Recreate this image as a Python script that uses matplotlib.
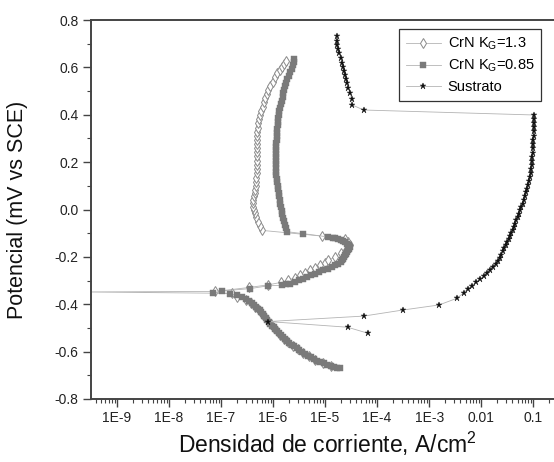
import matplotlib
matplotlib.use("Agg")
import matplotlib.pyplot as plt
from matplotlib.ticker import FixedLocator, FixedFormatter, LogLocator, MultipleLocator, NullFormatter, FormatStrFormatter

# ---------------- data ----------------
# CrN KG=1.3 (open diamonds): current density (A/cm2), potential (V)
crn13_i = [1.3e-5, 9.0e-6, 6.3e-6, 4.8e-6, 3.7e-6, 2.95e-6, 2.4e-6, 1.95e-6, 1.6e-6, 1.37e-6,
           1.2e-6, 1.05e-6, 9.0e-7, 7.9e-7, 7.0e-7, 6.1e-7, 5.3e-7, 4.5e-7, 3.7e-7, 3.0e-7,
           2.0e-7, 1.6e-7, 2e-10, 7.7e-8, 3.5e-7, 8.1e-7, 1.4e-6, 1.95e-6, 2.6e-6, 3.3e-6,
           4.1e-6, 5.2e-6, 6.5e-6, 8.0e-6, 9.8e-6, 1.16e-5, 1.55e-5, 2.0e-5, 2.5e-5, 2.9e-5,
           3.0e-5, 2.7e-5, 2.4e-5, 8.6e-6,
           6.0e-7, 5.6e-7, 5.2e-7, 4.8e-7, 4.5e-7, 4.3e-7, 4.2e-7, 4.2e-7, 4.2e-7, 4.3e-7,
           4.4e-7, 4.5e-7, 4.6e-7, 4.7e-7, 4.8e-7, 4.9e-7, 5.0e-7, 5.0e-7, 5.0e-7, 5.0e-7,
           5.0e-7, 5.0e-7, 5.0e-7, 5.0e-7, 5.0e-7, 5.0e-7, 5.1e-7, 5.2e-7, 5.4e-7, 5.6e-7,
           5.9e-7, 6.3e-7, 6.6e-7, 7.0e-7, 7.5e-7, 8.1e-7, 8.9e-7, 9.9e-7, 1.1e-6, 1.21e-6,
           1.33e-6, 1.47e-6, 1.62e-6, 1.78e-6]
crn13_E = [-0.660, -0.648, -0.635, -0.620, -0.605, -0.590, -0.575, -0.560, -0.545, -0.530,
           -0.515, -0.500, -0.485, -0.470, -0.455, -0.440, -0.425, -0.410, -0.396, -0.382,
           -0.368, -0.354, -0.348, -0.346, -0.329, -0.318, -0.308, -0.299, -0.288, -0.278,
           -0.267, -0.257, -0.246, -0.236, -0.225, -0.215, -0.200, -0.185, -0.170, -0.158,
           -0.148, -0.136, -0.123, -0.112,
           -0.088, -0.070, -0.051, -0.033, -0.016, 0.000, 0.012, 0.026, 0.040, 0.055,
           0.069, 0.083, 0.100, 0.118, 0.135, 0.153, 0.170, 0.188, 0.206, 0.224,
           0.242, 0.259, 0.276, 0.294, 0.311, 0.329, 0.346, 0.364, 0.381, 0.399,
           0.416, 0.434, 0.452, 0.470, 0.488, 0.505, 0.522, 0.540, 0.558, 0.575,
           0.590, 0.603, 0.616, 0.628]

# CrN KG=0.85 (filled squares)
crn085_i = [1.9e-5, 1.7e-5, 1.5e-5, 1.3e-5, 1.1e-5, 9.4e-6, 8.0e-6, 7.0e-6, 6.1e-6, 5.4e-6,
            4.7e-6, 4.1e-6, 3.6e-6, 3.2e-6, 2.85e-6, 2.55e-6, 2.3e-6, 2.05e-6, 1.85e-6, 1.68e-6,
            1.53e-6, 1.40e-6, 1.29e-6, 1.19e-6, 1.10e-6, 1.02e-6, 9.5e-7, 8.9e-7, 8.3e-7, 7.8e-7,
            7.3e-7, 6.8e-7, 6.3e-7, 5.9e-7, 5.5e-7, 5.1e-7, 4.7e-7, 4.3e-7, 3.9e-7, 3.5e-7,
            3.0e-7, 2.5e-7, 2.0e-7, 1.5e-7, 7.1e-8,
            1.03e-7, 3.6e-7, 8.1e-7, 1.47e-6, 1.8e-6, 2.1e-6, 2.6e-6, 3.1e-6, 3.7e-6, 4.45e-6,
            5.3e-6, 6.4e-6, 7.7e-6, 9.3e-6, 1.12e-5, 1.34e-5, 1.57e-5, 1.8e-5, 2.0e-5, 2.13e-5,
            2.24e-5, 2.35e-5, 2.44e-5, 2.52e-5, 2.6e-5, 2.72e-5, 2.85e-5, 3.0e-5, 2.85e-5, 2.6e-5,
            2.42e-5, 2.24e-5, 2.0e-5, 1.77e-5, 1.55e-5, 1.4e-5, 1.16e-5, 3.8e-6,
            1.88e-6, 1.78e-6, 1.70e-6, 1.63e-6, 1.56e-6, 1.50e-6, 1.46e-6, 1.42e-6, 1.38e-6, 1.35e-6,
            1.31e-6, 1.28e-6, 1.25e-6, 1.22e-6, 1.20e-6, 1.18e-6, 1.16e-6, 1.15e-6, 1.14e-6, 1.14e-6,
            1.13e-6, 1.13e-6, 1.14e-6, 1.14e-6, 1.15e-6, 1.16e-6, 1.17e-6, 1.18e-6, 1.19e-6, 1.20e-6,
            1.22e-6, 1.24e-6, 1.26e-6, 1.28e-6, 1.31e-6, 1.35e-6, 1.40e-6, 1.46e-6, 1.52e-6, 1.58e-6,
            1.64e-6, 1.71e-6, 1.78e-6, 1.88e-6, 2.0e-6, 2.14e-6, 2.28e-6, 2.40e-6, 2.50e-6, 2.57e-6]
crn085_E = [-0.671, -0.668, -0.664, -0.660, -0.655, -0.650, -0.644, -0.638, -0.631, -0.624,
            -0.617, -0.610, -0.602, -0.594, -0.586, -0.578, -0.570, -0.562, -0.554, -0.546,
            -0.538, -0.530, -0.522, -0.514, -0.506, -0.498, -0.490, -0.482, -0.474, -0.466,
            -0.458, -0.450, -0.442, -0.434, -0.426, -0.418, -0.410, -0.402, -0.394, -0.386,
            -0.378, -0.370, -0.362, -0.356, -0.352,
            -0.344, -0.334, -0.322, -0.320, -0.316, -0.313, -0.306, -0.299, -0.292, -0.285,
            -0.278, -0.271, -0.264, -0.257, -0.250, -0.243, -0.236, -0.229, -0.222, -0.215,
            -0.208, -0.201, -0.194, -0.187, -0.180, -0.173, -0.166, -0.158, -0.151, -0.144,
            -0.139, -0.134, -0.130, -0.126, -0.122, -0.120, -0.116, -0.102,
            -0.094, -0.080, -0.065, -0.050, -0.035, -0.020, -0.005, 0.010, 0.025, 0.040,
            0.055, 0.070, 0.085, 0.100, 0.115, 0.130, 0.145, 0.160, 0.175, 0.190,
            0.205, 0.220, 0.235, 0.250, 0.265, 0.280, 0.295, 0.310, 0.325, 0.340,
            0.355, 0.370, 0.385, 0.400, 0.415, 0.430, 0.445, 0.460, 0.475, 0.490,
            0.505, 0.520, 0.535, 0.550, 0.565, 0.580, 0.595, 0.610, 0.622, 0.634]

# Sustrato (black stars)
sus_i = [6.8e-5, 2.7e-5, 8.1e-7, 5.5e-5, 3.2e-4, 1.55e-3, 3.4e-3, 4.6e-3, 5.5e-3, 6.7e-3,
         8.0e-3, 9.6e-3, 1.13e-2, 1.32e-2, 1.5e-2, 1.72e-2, 1.93e-2, 2.12e-2, 2.3e-2, 2.45e-2,
         2.62e-2, 2.8e-2, 3.0e-2, 3.2e-2, 3.42e-2, 3.62e-2, 3.82e-2, 4.05e-2, 4.28e-2, 4.5e-2,
         4.75e-2, 5.0e-2, 5.3e-2, 5.6e-2, 5.95e-2, 6.3e-2, 6.65e-2, 7.0e-2, 7.4e-2, 7.75e-2,
         8.1e-2, 8.4e-2, 8.7e-2, 8.95e-2, 9.15e-2, 9.35e-2, 9.5e-2, 9.65e-2, 9.8e-2, 9.9e-2,
         1.0e-1, 1.01e-1, 1.015e-1, 1.02e-1, 1.03e-1, 1.035e-1, 1.04e-1, 1.045e-1,
         5.5e-5, 3.35e-5, 3.26e-5, 3.03e-5, 2.81e-5, 2.69e-5, 2.54e-5, 2.43e-5, 2.32e-5, 2.19e-5,
         2.1e-5, 2.0e-5, 1.88e-5, 1.80e-5, 1.73e-5, 1.68e-5, 1.68e-5]
sus_E = [-0.523, -0.497, -0.473, -0.450, -0.424, -0.403, -0.375, -0.352, -0.336, -0.321,
         -0.307, -0.294, -0.281, -0.268, -0.255, -0.242, -0.229, -0.216, -0.203, -0.190,
         -0.177, -0.164, -0.151, -0.138, -0.125, -0.112, -0.099, -0.086, -0.073, -0.060,
         -0.046, -0.032, -0.018, -0.004, 0.010, 0.025, 0.040, 0.056, 0.072, 0.088,
         0.104, 0.120, 0.137, 0.154, 0.171, 0.188, 0.205, 0.222, 0.240, 0.258,
         0.276, 0.294, 0.312, 0.330, 0.348, 0.366, 0.383, 0.399,
         0.420, 0.441, 0.465, 0.491, 0.512, 0.533, 0.550, 0.568, 0.586, 0.603,
         0.620, 0.638, 0.659, 0.676, 0.694, 0.713, 0.732]

series_labels = [r"CrN K$_{\mathrm{G}}$=1.3", r"CrN K$_{\mathrm{G}}$=0.85", "Sustrato"]
x_tick_values = [1e-9, 1e-8, 1e-7, 1e-6, 1e-5, 1e-4, 1e-3, 1e-2, 1e-1]
x_tick_labels = ["1E-9", "1E-8", "1E-7", "1E-6", "1E-5", "1E-4", "1E-3", "0.01", "0.1"]

# ---------------- style ----------------
plt.rcParams["font.family"] = ["Liberation Sans", "DejaVu Sans"]
plt.rcParams["mathtext.fontset"] = "custom"
plt.rcParams["mathtext.rm"] = "Liberation Sans"
plt.rcParams["mathtext.it"] = "Liberation Sans:italic"
plt.rcParams["mathtext.bf"] = "Liberation Sans:bold"

fig = plt.figure(figsize=(5.54, 4.62), dpi=100)
ax = fig.add_axes([91/554, 63/462, 463/554, 379/462])

line_col = "#b4b4b4"
ax.plot(crn13_i, crn13_E, color=line_col, lw=0.6, marker="d", ms=4.6,
        mfc="white", mec="#8a8a8a", mew=0.7, label=series_labels[0], zorder=2)
ax.plot(crn085_i, crn085_E, color=line_col, lw=0.6, marker="s", ms=4.2,
        mfc="#7a7a7a", mec="#7a7a7a", mew=0.3, label=series_labels[1], zorder=3)
ax.plot(sus_i, sus_E, color=line_col, lw=0.6, marker="*", ms=5.0,
        mfc="#111111", mec="#111111", mew=0.3, label=series_labels[2], zorder=4)

ax.set_xscale("log")
ax.set_xlim(10**-9.5, 10**-0.6)
ax.set_ylim(-0.8, 0.8)

ax.xaxis.set_major_locator(FixedLocator(x_tick_values))
ax.xaxis.set_major_formatter(FixedFormatter(x_tick_labels))
ax.xaxis.set_minor_locator(LogLocator(base=10, subs=[2, 3, 4, 5, 6, 7, 8, 9], numticks=30))
ax.xaxis.set_minor_formatter(NullFormatter())
ax.yaxis.set_major_locator(MultipleLocator(0.2))
ax.yaxis.set_minor_locator(MultipleLocator(0.1))
ax.yaxis.set_major_formatter(FormatStrFormatter("%.1f"))

spine_col = "#444444"
for s in ["left", "bottom", "top"]:
    ax.spines[s].set_color(spine_col)
    ax.spines[s].set_linewidth(1.4)
ax.spines["right"].set_visible(False)

ax.tick_params(axis="both", which="major", direction="out", length=6, width=1.0,
               color=spine_col, labelsize=10, labelcolor="#222222", pad=3)
ax.tick_params(axis="both", which="minor", direction="out", length=3, width=0.8,
               color=spine_col)
ax.tick_params(top=False, right=False)

ax.set_xlabel(r"Densidad de corriente, A/cm$^{2}$", fontsize=16.5, color="#111111")
ax.set_ylabel("Potencial (mV vs SCE)", fontsize=15.5, color="#111111")
ax.xaxis.set_label_coords(0.51, -0.082)
ax.yaxis.set_label_coords(-0.136, 0.5)

leg = ax.legend(loc="upper right", bbox_to_anchor=(0.972, 0.976), fontsize=10.5,
                frameon=True, fancybox=False, edgecolor="#333333", framealpha=1,
                handlelength=2.4, handletextpad=0.5, borderpad=0.45, labelspacing=0.4,
                borderaxespad=0)
leg.get_frame().set_linewidth(0.9)

fig.savefig("out.png", dpi=100)
